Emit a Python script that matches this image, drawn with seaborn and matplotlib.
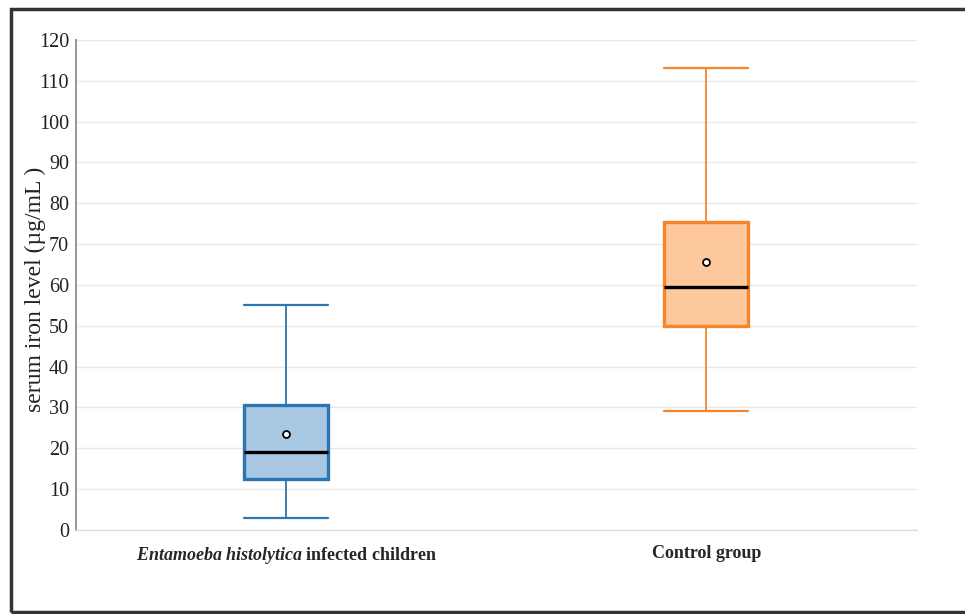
import numpy as np
import pandas as pd
import matplotlib
matplotlib.use("Agg")
import matplotlib.pyplot as plt
from matplotlib.patches import Rectangle
import seaborn as sns

# summary values
groups = ["Entamoeba histolytica infected children", "Control group"]
whis_lo = [3, 29]
q1 = [12.5, 50]
medians = [19, 59.5]
q3 = [30.5, 75.3]
whis_hi = [55, 113]
means = [23.5, 65.5]

fills = ["#a7c7e3", "#fdc89b"]
edges = ["#2b75b3", "#f5852a"]

# 5 points per group -> quartiles land exactly on the read values
rows = []
for i, g in enumerate(groups):
    for v in [whis_lo[i], q1[i], medians[i], q3[i], whis_hi[i]]:
        rows.append({"group": g, "value": v})
df = pd.DataFrame(rows)

sns.set_style("white")
plt.rcParams["font.family"] = ["Liberation Serif", "DejaVu Serif"]
plt.rcParams["mathtext.fontset"] = "custom"
plt.rcParams["mathtext.rm"] = "Liberation Serif"
plt.rcParams["mathtext.it"] = "Liberation Serif:italic"
plt.rcParams["mathtext.bf"] = "Liberation Serif:bold"
plt.rcParams["mathtext.bfit"] = "Liberation Serif:italic:bold"

fig = plt.figure(figsize=(9.65, 6.14), dpi=100)
ax = fig.add_axes([0.0788, 0.137, 0.871, 0.798])

for i, g in enumerate(groups):
    sns.boxplot(data=df[df.group == g], x="group", y="value", order=groups,
                color=fills[i], linecolor=edges[i], width=0.2, whis=(0, 100),
                showfliers=False, saturation=1, ax=ax,
                boxprops=dict(linewidth=2.4, edgecolor=edges[i], facecolor=fills[i]),
                whiskerprops=dict(linewidth=1.3, color=edges[i]),
                capprops=dict(linewidth=1.6, color=edges[i]),
                medianprops=dict(linewidth=2.4, color="black"))

# make caps as wide as the boxes
for line in ax.lines:
    xd = np.asarray(line.get_xdata(), dtype=float)
    yd = np.asarray(line.get_ydata(), dtype=float)
    if len(xd) == 2 and yd[0] == yd[1] and (yd[0] in whis_lo or yd[0] in whis_hi):
        c = xd.mean()
        line.set_xdata([c - 0.1, c + 0.1])

sns.stripplot(x=groups, y=means, order=groups, jitter=False, color="white",
              edgecolor="black", linewidth=1.3, size=5, ax=ax, zorder=5)

ax.set_ylim(0, 120)
ax.set_xlim(-0.5, 1.5)
ax.set_yticks(range(0, 121, 10))
ax.yaxis.grid(True, color="#e8e8e8", linewidth=1)
ax.set_axisbelow(True)
for s in ["top", "right"]:
    ax.spines[s].set_visible(False)
ax.spines["left"].set_color("#9a9a9a")
ax.spines["left"].set_linewidth(1.5)
ax.spines["bottom"].set_color("#dcdcdc")
ax.spines["bottom"].set_linewidth(1)

ax.set_xticks([0, 1])
ax.set_xticklabels([r"$\mathbfit{Entamoeba\ histolytica}$ infected children",
                    "Control group"], fontweight="bold", fontsize=13)
ax.tick_params(axis="x", length=3, color="#888888", pad=8)
ax.tick_params(axis="y", length=0, labelsize=14.5, pad=5, labelcolor="#222222")
ax.set_xlabel("")
ax.set_ylabel("serum iron level (µg/mL )", fontsize=17, color="#222222")
ax.yaxis.set_label_coords(-0.036, 0.49)

fig.add_artist(Rectangle((0.0114, 0.003), 1.1, 0.983, transform=fig.transFigure,
                         fill=False, linewidth=2.5, edgecolor="#333333"))

fig.savefig("out.png", dpi=100)
